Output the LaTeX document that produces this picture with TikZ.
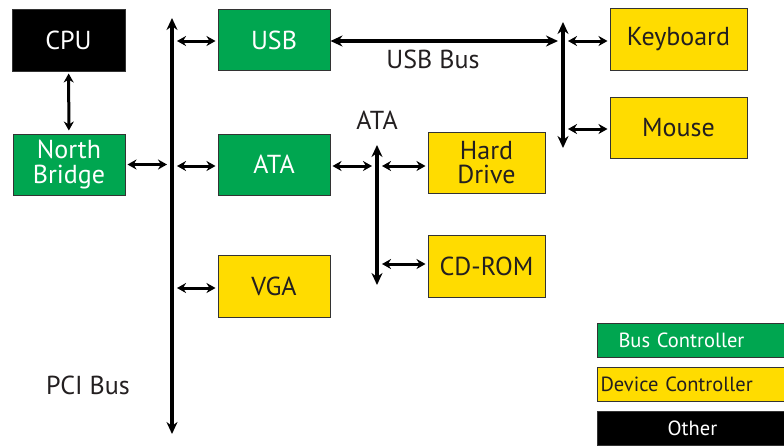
\documentclass[tikz,border=0pt]{standalone}
\usepackage{fontspec}
\setmainfont{PT Sans}
\usetikzlibrary{arrows.meta}

\begin{document}
\begin{tikzpicture}[x=1pt, y=-1pt,
    box/.style={draw=black!80, line width=1pt, minimum width=112pt, minimum height=61pt,
        inner sep=0pt, align=center, font=\fontsize{26}{24.5}\selectfont},
    busbox/.style={box, fill=busColour, text=white},
    devbox/.style={box, fill=devColour, text=textColour},
    otherbox/.style={box, fill=black, text=white},
    keybox/.style={minimum width=190pt, minimum height=34pt, font=\fontsize{20.5}{21}\selectfont},
    bus/.style={line width=4.5pt, {Stealth[length=12pt,width=11pt]}-{Stealth[length=12pt,width=11pt]}},
    link/.style={line width=3pt, {Stealth[length=9pt,width=10pt]}-{Stealth[length=9pt,width=10pt]},
        shorten <=2pt, shorten >=5pt},
    lbl/.style={text=textColour, font=\fontsize{26}{24.5}\selectfont}]

    % Colours
    \definecolor{busColour}{HTML}{00A650}
    \definecolor{devColour}{HTML}{FFDC00}
    \definecolor{textColour}{HTML}{231F20}

    % Fix the page
    \useasboundingbox (0,0) rectangle (784,445);

    % Bus ends
    \coordinate (pciTop) at (172,18);
    \coordinate (pciBot) at (172,434);
    \coordinate (usbTop) at (563,22);
    \coordinate (usbBot) at (563,148);
    \coordinate (ataTop) at (377,145);
    \coordinate (ataBot) at (377,285);

    % Boxes
    \node[otherbox, minimum width=113pt, minimum height=62pt] (cpu) at (68.5,40) {CPU};
    \node[busbox] (nb) at (69,164.5) {North\\Bridge};
    \node[busbox] (usb) at (274,40) {USB};
    \node[busbox] (ata) at (274,164.5) {ATA};
    \node[devbox, minimum height=62pt] (vga) at (274,286) {VGA};
    \node[devbox, minimum width=137pt, minimum height=62pt] (kbd) at (678.5,39) {Keyboard};
    \node[devbox, minimum width=137pt] (mouse) at (678.5,127.5) {Mouse};
    \node[devbox, minimum width=117pt] (hdd) at (486.5,162.5) {Hard\\Drive};
    \node[devbox, minimum width=117pt, minimum height=62pt] (cdrom) at (486.5,266) {CD-ROM};

    % Buses
    \draw[bus] (pciTop) -- (pciBot);
    \draw[bus] (usbTop) -- (usbBot);
    \draw[bus] (ataTop) -- (ataBot);
    \draw[bus, shorten >=5pt] (usb.east |- 0,41) -- (usbTop |- 0,41);

    % Bus labels
    \node[lbl] (usbLbl) at (433,59) {USB Bus};
    \node[lbl] (ataLbl) at (377,120) {ATA};
    \node[lbl] (pciLbl) at (88,385) {PCI Bus};

    % Links
    \draw[link, shorten >=3pt] (cpu) -- (nb);
    \draw[link] (nb.east) -- (nb.east -| pciTop);
    \draw[link] (usb.west |- 0,41) -- (pciTop |- 0,41);
    \draw[link] (ata.west |- 0,166) -- (pciTop |- 0,166);
    \draw[link] (vga.west |- 0,288) -- (pciTop |- 0,288);
    \draw[link] (ata.east |- 0,166) -- (ataTop |- 0,166);
    \draw[link] (hdd.west |- 0,166) -- (ataTop |- 0,166);
    \draw[link] (cdrom.west |- 0,264) -- (ataTop |- 0,264);
    \draw[link] (kbd.west |- 0,41) -- (usbTop |- 0,41);
    \draw[link] (mouse.west |- 0,129) -- (usbTop |- 0,129);

    % Key
    \node[busbox, keybox, anchor=west, text width=170pt, align=left] (keyBus) at (597,340) {\hspace*{11pt}Bus Controller};
    \node[devbox, keybox, anchor=west, text width=180pt, align=left] (keyDev) at (597,384) {\hspace*{-2pt}Device Controller};
    \node[otherbox, keybox, anchor=west] (keyOther) at (597,428) {Other};

\end{tikzpicture}
\end{document}
